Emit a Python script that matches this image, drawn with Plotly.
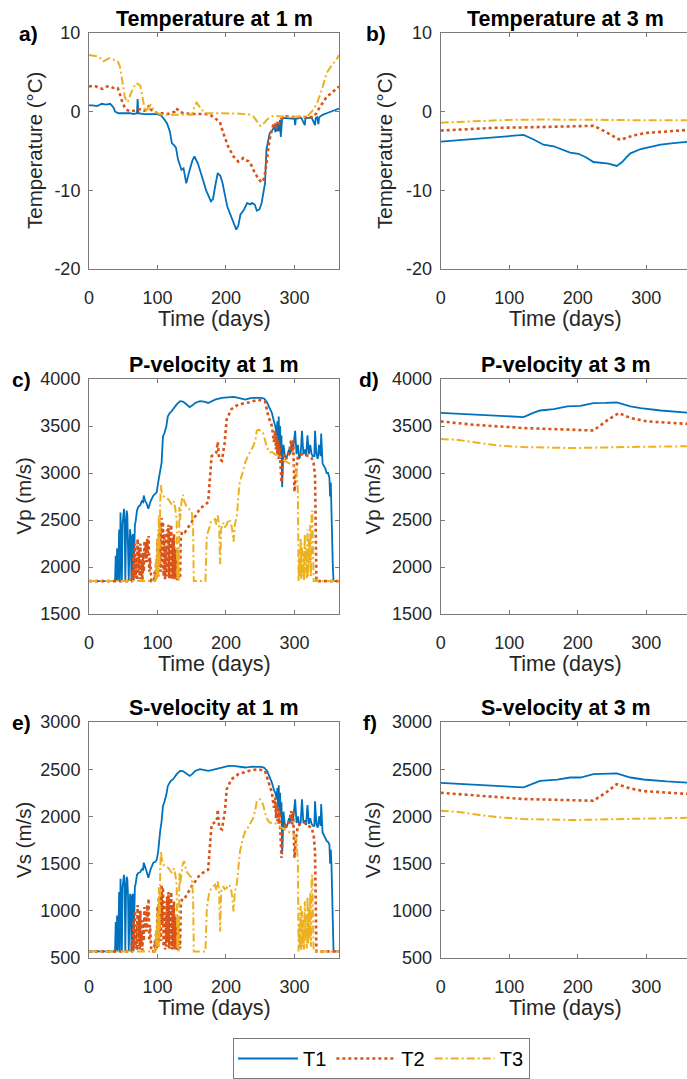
import plotly.graph_objects as go
from plotly.subplots import make_subplots

# ---------------- data (day, value) ----------------
series_names = ["T1", "T2", "T3"]
colors = ["#0072BD", "#D95319", "#EDB120"]

temp1_T1 = [(0,0.8),(5,0.8),(12,0.7),(18.5,1.0),(25,0.9),(31,1.0),(36,0.5),(38,0.0),(43,-0.2),(50,-0.2),
            (55,-0.2),(60,-0.2),(65,-0.3),(70,-0.2),(71,1.6),(72,-0.2),(80,-0.3),(90,-0.3),(99,-0.3),(103,-0.4),
            (106,-0.55),(110,-1.0),(114,-1.5),(118,-2.5),(121,-4.0),(124.7,-4.3),(127,-4.6),(130,-6.1),(135,-7.4),
            (138,-7.2),(142,-9.1),(147,-7.4),(151,-6.2),(154,-5.7),(159,-6.6),(164,-8.0),(171,-10.0),(178,-11.4),
            (181,-11.1),(185,-9.1),(188,-7.8),(192,-8.2),(195,-9.1),(202,-12.1),(209,-13.8),(215,-15.0),(218,-14.5),
            (221,-13.1),(226,-12.5),(231,-11.6),(235,-11.8),(238,-11.6),(242,-11.8),(245,-12.6),(249,-12.4),
            (252,-11.6),(257,-9.1),(259,-4.9),(262,-3.5),(264,-2.7),(268,-2.3),(271,-1.9),(272,-2.6),(273,-1.6),
            (274,-2.5),(275,-1.5),(277,-2.5),(278,-1.1),(279,-1.05),(280,-3.2),(281,-1.0),(282,-0.9),(284,-0.8),
            (290,-0.85),(295,-0.8),(300,-0.9),(301,-1.7),(302,-0.9),(305,-0.85),(310,-0.8),(315,-1.7),(316,-0.85),
            (320,-0.8),(325,-0.75),(330,-1.7),(331,-0.8),(333,-0.7),(335,-1.6),(336,-0.7),(341,-0.4),(347,-0.2),
            (353,0.0),(358,0.1),(365,0.4)]
temp1_T2 = [(0,3.2),(8,3.3),(15,3.0),(20,2.9),(26,3.2),(31,3.2),(36,3.0),(42,3.0),(46,2.0),(49,1.1),(52,0.6),
            (55,0.25),(60,0.0),(65,0.1),(70,0.2),(75,0.3),(80,0.1),(85,0.3),(88,0.8),(90,0.3),(93,0.1),(95,-0.1),
            (100,-0.2),(107,-0.2),(115,-0.3),(125,0.0),(127,0.4),(129,0.3),(132,0.0),(138,-0.2),(150,-0.3),
            (160,-0.3),(170,-0.3),(177,-0.4),(184,-0.85),(191,-1.3),(196,-2.7),(203,-4.4),(211,-5.7),(218,-6.35),
            (222,-6.2),(225,-5.9),(229,-6.2),(233,-6.3),(237,-6.8),(240,-7.4),(247,-8.5),(252,-9.0),(255,-8.6),
            (257,-7.8),(260,-6.0),(262,-4.4),(265,-3.0),(267,-2.3),(269,-1.7),(271,-1.4),(273,-2.2),(275,-1.3),
            (277,-1.8),(279,-1.0),(284,-0.8),(288,-0.6),(300,-0.7),(308,-0.7),(320,-0.7),(327,-0.7),(332,-0.2),
            (337,0.6),(342,1.2),(347,1.9),(353,2.3),(359,2.7),(365,3.2)]
temp1_T3 = [(0,7.2),(7,7.1),(14,7.0),(21,6.4),(26,6.6),(30,6.8),(36,6.6),(42,6.4),(45,5.8),(47,4.9),(50,3.2),
            (52,1.9),(56,1.2),(58,1.5),(61,2.3),(65,3.0),(68,3.6),(72,3.5),(75,3.3),(78,1.9),(80,0.7),(82,0.0),
            (86,0.4),(90,0.85),(93,0.4),(97,0.0),(101,-0.2),(106,-0.4),(120,-0.4),(135,-0.4),(150,-0.4),(153,0.4),
            (157,1.15),(160,0.8),(164,0.4),(169,-0.2),(180,-0.2),(200,-0.2),(220,-0.25),(235,-0.4),(240,-0.6),
            (245,-1.2),(250,-1.8),(255,-1.5),(260,-1.0),(265,-0.7),(270,-0.5),(280,-0.6),(290,-0.65),(300,-0.65),
            (310,-0.6),(318,-0.65),(323,-0.2),(328,0.3),(333,1.1),(337,2.0),(340,2.8),(344,4.0),(347,4.9),
            (352,5.6),(357,6.1),(361,6.6),(365,7.2)]

temp3_T1 = [(0,-3.8),(30,-3.6),(60,-3.35),(90,-3.15),(121,-2.96),(135,-3.5),(150,-4.2),(165,-4.4),(178,-4.8),
            (189,-5.2),(201,-5.35),(212,-5.8),(223,-6.4),(235,-6.55),(245,-6.6),(257,-6.9),(265,-6.4),(271,-5.8),
            (277,-5.3),(292,-4.75),(305,-4.5),(321,-4.2),(340,-4.0),(365,-3.8)]
temp3_T2 = [(0,-2.4),(40,-2.2),(80,-2.05),(121,-2.0),(170,-1.9),(223,-1.8),(233,-2.2),(243,-2.7),(252,-3.2),
            (262,-3.6),(272,-3.3),(282,-3.0),(301,-2.7),(330,-2.5),(365,-2.3)]
temp3_T3 = [(0,-1.4),(30,-1.3),(60,-1.2),(97,-1.05),(150,-1.0),(200,-1.0),(250,-1.05),(300,-1.1),(365,-1.1)]

vp1_T1 = [(0,1850),(38,1850),(39,2120),(40,1850),(41,2200),(42,1850),(43,2000),(44,2400),(45,1850),(46,2580),
          (47,2300),(48,1850),(49,2450),(50,2590),(51,2620),(52,2500),(53,1850),(54,2350),(55,2600),(56,2550),
          (57,2300),(58,1850),(59,2200),(60,2400),(61,2300),(62,1850),(63,2300),(64,2350),(65,1850),(66,2300),
          (67,2450),(68,2480),(69,2550),(70,2600),(72,2640),(75,2660),(77,2700),(79,2690),(80,2760),(82,2700),
          (84,2680),(86.6,2620),(90,2700),(94,2760),(97,2780),(99,2800),(101,2900),(104,3050),(106,3110),
          (108,3390),(110,3420),(113,3500),(115,3600),(118,3640),(120,3650),(123,3680),(128,3730),(133,3765),
          (137,3760),(140,3745),(144,3720),(147,3700),(151,3720),(155,3745),(162,3765),(168,3760),(174,3745),
          (179,3760),(184,3780),(194,3800),(204,3810),(211,3810),(218,3800),(223,3790),(228,3780),(233,3790),
          (238,3800),(245,3800),(252,3800),(256,3790),(260,3750),(263,3700),(267,3640),(270,3550),(272,3500),
          (274,3400),(275,3550),(276,3300),(277,3600),(278,3250),(279,3500),(280,3150),(281,3400),(282,2850),
          (283,3100),(284,3300),(286,3180),(288,3150),(290,3200),(292,3250),(294,3200),(296,3320),(298,3250),
          (301,3450),(303,3200),(305,3300),(307,3150),(309,3200),(311,3450),(313,3200),(315,3250),(317,3180),
          (319,3400),(321,3200),(323,3300),(325,3200),(327,3180),(329,3180),(330,3450),(332,3200),(334,3150),
          (336,3300),(338,3180),(339,3420),(341,3100),(343,3080),(345,3050),(347,3000),(349,3000),(351,2950),
          (352,2750),(353,2900),(354,2700),(355,2300),(356,2000),(357,1850),(365,1850)]
vp1_T2 = [(0,1850),(62,1850),(63,1950),(64,1870),(65,2150),(66,1880),(67,2250),(68,1900),(69,2100),(70,1860),
          (71,2300),(72,1950),(73,2200),(74,1870),(75,2250),(76,1900),(77,2050),(78,1860),(79,2150),(80,1950),
          (81,2280),(82,2100),(83,2250),(84,2050),(85,2300),(86,2150),(87,2330),(88,1950),(89,2100),(90,1870),
          (91,1850),(95,1850),(96,1950),(97,1860),(98,2050),(99,1880),(100,2300),(101,1900),(102,2400),(103,2000),
          (104,2450),(105,1950),(106,2520),(107,2100),(108,2480),(109,1900),(110,2350),(111,1870),(112,2200),
          (113,1900),(114,2400),(115,1950),(116,2450),(117,1880),(118,2380),(119,2000),(120,2450),(121,1870),
          (122,2300),(123,1900),(124,2350),(125,1870),(126,2200),(127,1880),(128,2150),(129,1860),(130,2100),
          (131,1870),(132,2000),(133,1880),(134,2300),(136,2380),(140,2370),(150,2480),(162,2620),(174,2690),
          (177,2970),(179,3180),(186,3220),(188,3330),(190,3150),(194,3130),(198,3320),(201,3570),(208,3680),
          (218,3730),(233,3750),(247,3780),(257,3760),(262,3600),(267,3500),(270,3330),(272,3450),(273,3250),
          (274,3400),(275,3200),(276,3350),(277,3150),(278,3300),(279,3100),(281,2900),(283,3100),(285,3200),
          (288,3150),(292,3200),(295,3350),(297,3220),(298,3360),(300,2800),(302,3000),(305,3180),(310,3200),
          (315,3200),(320,3180),(325,3165),(328,3100),(330,2970),(332,1850),(365,1850)]
vp1_T3 = [(0,1850),(97,1850),(98,2100),(99,1870),(100,2300),(101,1900),(102,2550),(103,2000),(104,2700),
          (105,2870),(106,2800),(108,2760),(111,2740),(116,2720),(121,2660),(124,2700),(126,2620),(128,2500),
          (129,1870),(130,2200),(131,1850),(132,2640),(133,2500),(135,2690),(137,2770),(139,2700),(142,2650),
          (146,2620),(150,2590),(152,2400),(153,1850),(170,1850),(172,2340),(175,2400),(178,2480),(181,2500),
          (184,2510),(186,2450),(188,2550),(190,2420),(191.5,2030),(193,2410),(196,2470),(198,2420),(201,2450),
          (204,2510),(207,2480),(209,2400),(211,2270),(213,2450),(216,2550),(218,2750),(220,2900),(224,3000),
          (228,3110),(232,3180),(235,3220),(240,3290),(243,3350),(245,3450),(248,3460),(250,3450),(254,3430),
          (257,3350),(259,3290),(262,3240),(264,3220),(268,3220),(271,3200),(276,3180),(281,3165),(286,3130),
          (291,3110),(295,3090),(298,3080),(301,3050),(303,3010),(305,2800),(306,1850),(307,2100),(308,1900),
          (309,2300),(310,1870),(311,2250),(312,1900),(313,2150),(314,1860),(315,2350),(316,1950),(317,2200),
          (318,1870),(319,2400),(320,1900),(321,2300),(322,2000),(323,2450),(324,1900),(325,2550),(326,2600),
          (327,2200),(328,1850),(365,1850)]

vp3_T1 = [(0,3640),(48,3620),(90,3600),(121,3595),(135,3640),(145,3665),(165,3680),(185,3708),(204,3715),
          (223,3744),(240,3745),(257,3750),(277,3708),(292,3690),(321,3665),(340,3655),(365,3640)]
vp3_T2 = [(0,3549),(48,3513),(121,3478),(194,3460),(223,3452),(243,3560),(260,3638),(277,3585),(301,3549),
          (365,3520)]
vp3_T3 = [(0,3361),(23,3354),(57,3319),(86,3290),(121,3276),(194,3265),(267,3276),(365,3285)]

vs1_T1 = [(0,570),(38,570),(39,880),(40,570),(41,950),(42,570),(43,800),(44,1200),(45,570),(46,1340),(47,1100),
          (48,570),(49,1250),(50,1360),(51,1380),(52,1280),(53,570),(54,1150),(55,1360),(56,1330),(57,1150),
          (58,570),(59,1050),(60,1180),(61,1130),(62,570),(63,1150),(64,1180),(65,570),(66,1150),(67,1260),
          (68,1280),(69,1340),(70,1380),(72,1400),(75,1410),(77,1440),(79,1436),(80,1510),(82,1450),(84,1420),
          (86.6,1350),(90,1440),(94,1510),(97,1520),(99,1543),(101,1630),(104,1850),(106,1950),(108,2110),
          (110,2150),(113,2234),(115,2320),(118,2360),(120,2380),(123,2394),(128,2447),(133,2482),(137,2480),
          (140,2465),(144,2440),(147,2429),(151,2450),(155,2482),(162,2500),(168,2490),(174,2482),(179,2490),
          (184,2500),(194,2518),(204,2535),(211,2535),(218,2525),(223,2520),(228,2518),(233,2522),(238,2528),
          (245,2525),(252,2525),(256,2515),(260,2482),(263,2430),(267,2358),(270,2280),(272,2250),(274,2180),
          (275,2300),(276,2100),(277,2330),(278,2050),(279,2250),(280,2000),(281,2150),(282,1600),(283,1850),
          (284,2050),(286,1900),(288,1880),(290,1920),(292,1980),(294,1930),(296,2020),(298,1960),(301,2180),
          (303,1930),(305,2000),(307,1900),(309,1930),(311,2180),(313,1930),(315,1960),(317,1910),(319,2120),
          (321,1920),(323,1980),(325,1920),(327,1900),(329,1900),(330,2160),(332,1920),(334,1880),(336,2000),
          (338,1900),(339,2130),(341,1830),(343,1800),(345,1760),(347,1740),(349,1730),(351,1700),(352,1500),
          (353,1650),(354,1490),(355,1100),(356,800),(357,570),(365,570)]
vs1_T2 = [(0,570),(62,570),(63,700),(64,590),(65,900),(66,600),(67,1000),(68,620),(69,850),(70,580),(71,1060),
          (72,680),(73,950),(74,590),(75,1000),(76,620),(77,780),(78,580),(79,900),(80,680),(81,1040),(82,850),
          (83,1000),(84,780),(85,1060),(86,900),(87,1130),(88,680),(89,850),(90,590),(91,570),(95,570),(96,680),
          (97,580),(98,780),(99,600),(100,1050),(101,620),(102,1150),(103,720),(104,1200),(105,680),(106,1280),
          (107,850),(108,1250),(109,620),(110,1100),(111,590),(112,950),(113,620),(114,1150),(115,680),(116,1200),
          (117,600),(118,1130),(119,720),(120,1200),(121,590),(122,1050),(123,620),(124,1100),(125,590),(126,950),
          (127,600),(128,900),(129,580),(130,850),(131,590),(132,750),(133,600),(134,1050),(136,1130),(140,1135),
          (150,1260),(162,1383),(174,1436),(177,1700),(179,1915),(186.5,1950),(188,2074),(190,1880),(194,1862),
          (198.5,2057),(201,2287),(208,2394),(218,2447),(233,2482),(247,2500),(257,2482),(262,2358),(267,2252),
          (270,2092),(272,2200),(273,1980),(274,2150),(275,1950),(276,2100),(277,1920),(278,2050),(279,1900),
          (281,1560),(283,1850),(285,1920),(288,1900),(292,1930),(295,2057),(297,1915),(298,2060),(300,1560),
          (302,1750),(305,1900),(310,1930),(315,1932),(320,1900),(325,1880),(328,1800),(330,1631),(332,570),
          (365,570)]
vs1_T3 = [(0,570),(97,570),(98,800),(99,590),(100,1000),(101,620),(102,1250),(103,700),(104,1450),(105,1630),
          (106,1560),(108.5,1490),(111,1470),(116,1454),(121,1400),(124,1450),(126,1383),(128,1277),(129,590),
          (130,950),(131,570),(132,1400),(133,1280),(135,1418),(137,1500),(139,1525),(142,1420),(146,1380),
          (150,1350),(152,1150),(153,570),(170,570),(172,1028),(175,1170),(178,1230),(181,1260),(184,1277),
          (186,1220),(188,1312),(190,1200),(191.5,780),(193,1206),(196,1260),(198,1230),(201,1241),(204,1277),
          (207,1250),(209,1150),(211,993),(213,1200),(216,1294),(218,1450),(220.5,1631),(224,1750),(228,1844),
          (232,1880),(235,1915),(240,1986),(243,2080),(245,2163),(248,2180),(250,2180),(254,2128),(257,2050),
          (259,1986),(262,1950),(264,1932),(268,1932),(271,1932),(276,1900),(281,1880),(286,1860),(291,1844),
          (295,1830),(298,1809),(301,1780),(303,1755),(305,1500),(306,570),(307,850),(308,600),(309,1050),
          (310,580),(311,1000),(312,620),(313,900),(314,590),(315,1100),(316,680),(317,950),(318,600),(319,1150),
          (320,650),(321,1050),(322,700),(323,1200),(324,620),(325,1350),(326,1383),(327,950),(328,570),(365,570)]

vs3_T1 = [(0,2356),(60,2330),(121,2307),(145,2377),(170,2390),(189,2412),(204,2412),(223,2448),(257,2455),
          (277,2412),(296,2391),(330,2370),(365,2356)]
vs3_T2 = [(0,2250),(60,2215),(121,2184),(223,2166),(243,2261),(257,2342),(277,2296),(296,2268),(330,2250),
          (365,2236)]
vs3_T3 = [(0,2060),(23,2050),(57,2015),(86,1990),(121,1972),(194,1962),(267,1972),(365,1986)]

panel_titles = ["Temperature at 1 m", "Temperature at 3 m", "P-velocity at 1 m",
                "P-velocity at 3 m", "S-velocity at 1 m", "S-velocity at 3 m"]
panel_labels = ["a)", "b)", "c)", "d)", "e)", "f)"]
y_titles = ["Temperature (°C)", "Temperature (°C)", "Vp (m/s)", "Vp (m/s)", "Vs (m/s)", "Vs (m/s)"]
x_title = "Time (days)"
y_ranges = [[-20, 10], [-20, 10], [1500, 4000], [1500, 4000], [500, 3000], [500, 3000]]
y_tickvals = [[-20, -10, 0, 10], [-20, -10, 0, 10],
              [1500, 2000, 2500, 3000, 3500, 4000], [1500, 2000, 2500, 3000, 3500, 4000],
              [500, 1000, 1500, 2000, 2500, 3000], [500, 1000, 1500, 2000, 2500, 3000]]
y_ticktext = [["-20", "-10", "0", "10"], ["-20", "-10", "0", "10"],
              ["1500", "2000", "2500", "3000", "3500", "4000"], ["1500", "2000", "2500", "3000", "3500", "4000"],
              ["500", "1000", "1500", "2000", "2500", "3000"], ["500", "1000", "1500", "2000", "2500", "3000"]]
x_ticks = [0, 100, 200, 300]

panels = [
    [temp1_T1, temp1_T2, temp1_T3],
    [temp3_T1, temp3_T2, temp3_T3],
    [vp1_T1, vp1_T2, vp1_T3],
    [vp3_T1, vp3_T2, vp3_T3],
    [vs1_T1, vs1_T2, vs1_T3],
    [vs3_T1, vs3_T2, vs3_T3],
]

# ---------------- layout geometry (pixels) ----------------
W, H = 687, 1079
left_px = (89, 339)
right_px = (440.7, 687)
rows_px = [(33, 269), (379, 614), (722, 958)]
FONT = "Liberation Sans, Arial, sans-serif"
AX = "#7a7a7a"
TXT = "#262626"

line_styles = [dict(width=1.8, dash="solid"),
               dict(width=2.6, dash="dot"),
               dict(width=2.0, dash="8px,3px,2px,3px")]

fig = make_subplots(rows=3, cols=2)

for i, pdata in enumerate(panels):
    r, c = i // 2 + 1, i % 2 + 1
    for k, ser in enumerate(pdata):
        xs = [p[0] for p in ser]
        ys = [p[1] for p in ser]
        fig.add_trace(go.Scatter(x=xs, y=ys, mode="lines", name=series_names[k],
                                 legendgroup=series_names[k], showlegend=(i == 0),
                                 line=dict(color=colors[k], **line_styles[k])),
                      row=r, col=c)

def px2x(px):
    return px / W

def px2y(py):
    return 1 - py / H

annotations = []
for i in range(6):
    row, col = i // 2, i % 2
    xs_px = left_px if col == 0 else right_px
    ytop, ybot = rows_px[row]
    n = i + 1
    xa = "xaxis" if n == 1 else f"xaxis{n}"
    ya = "yaxis" if n == 1 else f"yaxis{n}"
    fig.layout[xa].update(
        domain=[px2x(xs_px[0]), px2x(xs_px[1])],
        range=[0, 365] if col == 0 else [0, (right_px[1] - right_px[0]) / (250 / 365)],
        tickvals=x_ticks, ticks="inside", ticklen=4, tickcolor=AX, showline=True,
        linecolor=AX, linewidth=1, mirror="ticks", showgrid=False, zeroline=False,
        tickfont=dict(family=FONT, size=18, color=TXT), ticklabelstandoff=12)
    fig.layout[ya].update(
        domain=[px2y(ybot), px2y(ytop)], range=y_ranges[i],
        tickvals=y_tickvals[i], ticktext=y_ticktext[i],
        ticks="inside", ticklen=4, tickcolor=AX, showline=True, linecolor=AX, linewidth=1,
        mirror=("ticks" if col == 0 else False), showgrid=False, zeroline=False,
        tickfont=dict(family=FONT, size=18, color=TXT), ticklabelstandoff=4)
    cx = (xs_px[0] + (xs_px[0] + 250)) / 2
    # title
    annotations.append(dict(text=f"<b>{panel_titles[i]}</b>", x=px2x(cx), y=px2y(ytop - 14),
                            xref="paper", yref="paper", showarrow=False, xanchor="center",
                            yanchor="middle", font=dict(family=FONT, size=21.5, color="black")))
    # panel label
    lab_x = [40, 388, 33, 381, 33, 379][i]
    annotations.append(dict(text=f"<b>{panel_labels[i]}</b>", x=px2x(lab_x), y=px2y(ytop),
                            xref="paper", yref="paper", showarrow=False, xanchor="right",
                            yanchor="middle", font=dict(family=FONT, size=21, color="black")))
    # x title
    annotations.append(dict(text=x_title, x=px2x(cx), y=px2y(ybot + 50),
                            xref="paper", yref="paper", showarrow=False, xanchor="center",
                            yanchor="middle", font=dict(family=FONT, size=21.5, color=TXT)))
    # y title
    ytx = [35, 385, 23, 372, 23, 372][i]
    annotations.append(dict(text=y_titles[i], x=px2x(ytx), y=px2y((ytop + ybot) / 2),
                            xref="paper", yref="paper", showarrow=False, xanchor="center",
                            yanchor="middle", textangle=-90,
                            font=dict(family=FONT, size=20.5, color=TXT)))

fig.update_layout(
    width=W, height=H, margin=dict(l=0, r=0, t=0, b=0, autoexpand=False),
    paper_bgcolor="white", plot_bgcolor="white",
    annotations=annotations,
    showlegend=True,
    legend=dict(orientation="h", x=px2x(381.5), xanchor="center", y=0, yanchor="bottom",
                bordercolor="#7a7a7a", borderwidth=1, bgcolor="white", itemwidth=60,
                font=dict(family=FONT, size=20, color="black"), tracegroupgap=0, itemclick=False),
)

fig.write_html("out.html", config={"displayModeBar": False},
               post_script="document.body.style.margin='0px';document.body.style.overflow='hidden';")
